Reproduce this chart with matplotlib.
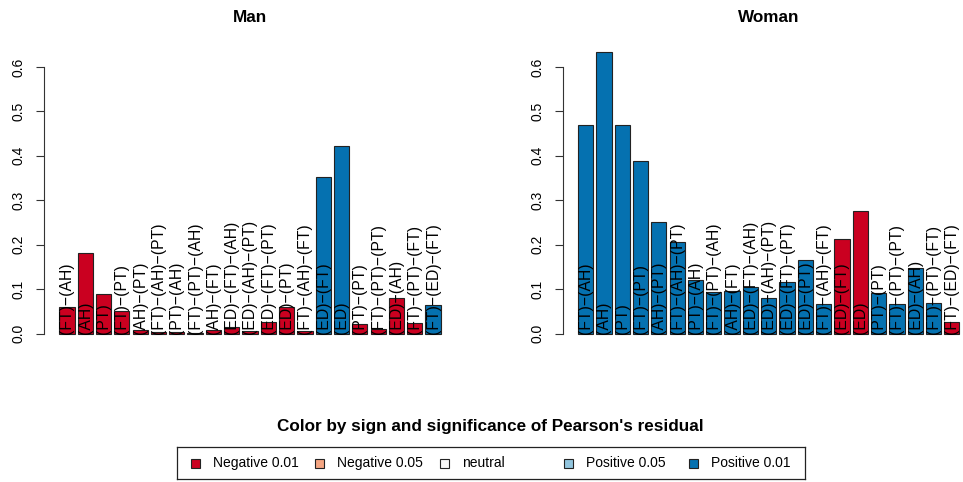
#!/usr/bin/python
# plot.py
# two barplots (Man / Woman) of sequence frequencies, coloured by
# sign and significance of the Pearson residual, shared legend below

import numpy as np
import matplotlib
matplotlib.use('Agg')
from matplotlib import pyplot as plt
from matplotlib.patches import Rectangle

plt.rcParams['font.family'] = ['Liberation Sans', 'DejaVu Sans']

M = '\u2212'
sequences = ['(FT)-(AH)', '(AH)', '(PT)', '(FT)-(PT)', '(AH)-(PT)',
             '(FT)-(AH)-(PT)', '(PT)-(AH)', '(FT)-(PT)-(AH)', '(AH)-(FT)',
             '(ED)-(FT)-(AH)', '(ED)-(AH)-(PT)', '(ED)-(FT)-(PT)', '(ED)-(PT)',
             '(FT)-(AH)-(FT)', '(ED)-(FT)', '(ED)', '(PT)-(PT)',
             '(FT)-(PT)-(PT)', '(ED)-(AH)', '(FT)-(PT)-(FT)', '(FT)-(ED)-(FT)']

man_freq = [0.060, 0.181, 0.0885, 0.051, 0.0075, 0.0045, 0.003, 0.0015,
            0.009, 0.016, 0.006, 0.027, 0.060, 0.006, 0.3526, 0.423, 0.022,
            0.0105, 0.080, 0.025, 0.065]
woman_freq = [0.4704, 0.6345, 0.469, 0.388, 0.2517, 0.2067, 0.1213, 0.0936,
              0.095, 0.1056, 0.0794, 0.116, 0.1648, 0.0674, 0.2135, 0.2757,
              0.0914, 0.0674, 0.1476, 0.0689, 0.027]

# 0 = negative 0.01, 1 = negative 0.05, 2 = neutral, 3 = positive 0.05, 4 = positive 0.01
man_class = [0] * 14 + [4, 4] + [0] * 4 + [4]
woman_class = [4] * 14 + [0, 0] + [4] * 4 + [0]

legend_labels = ['Negative 0.01', 'Negative 0.05', 'neutral',
                 'Positive 0.05', 'Positive 0.01']
palette = ['#CA0020', '#F4A582', '#F7F7F7', '#92C5DE', '#0571B0']

W, H = 963, 482
fig = plt.figure(figsize=(W / 100, H / 100), dpi=100)

ymax = max(max(man_freq), max(woman_freq))
ylo, yhi = -0.04 * ymax, 1.04 * ymax
yticks = [0.0, 0.1, 0.2, 0.3, 0.4, 0.5, 0.6]


def barpanel(left_px, title, freq, cls):
    ax = fig.add_axes([left_px / W, 0.2842, 412 / W, 0.6322])
    x = 0.7 + 1.2 * np.arange(len(freq))
    ax.bar(x, freq, width=1.0, color=[palette[c] for c in cls],
           edgecolor='#222222', linewidth=0.8, clip_on=True)
    for xi, lab in zip(x, sequences):
        ax.text(xi, 0.0, lab.replace('-', M), rotation=90, ha='center',
                va='bottom', fontsize=11.3, color='black', clip_on=True)
    ax.set_xlim(-0.8, 26.2)
    ax.set_ylim(ylo, yhi)
    ax.set_xticks([])
    ax.set_yticks(yticks)
    ax.set_yticklabels(['%.1f' % t for t in yticks], rotation=90,
                       va='center', fontsize=10)
    ax.tick_params(axis='y', length=6, width=0.8, pad=7, color='#333333')
    for s in ['top', 'right', 'bottom']:
        ax.spines[s].set_visible(False)
    ax.spines['left'].set_bounds(0, 0.6)
    ax.spines['left'].set_color('#333333')
    ax.spines['left'].set_linewidth(0.8)
    ax.patch.set_alpha(0)
    cx = (left_px + 206) / W
    fig.text(cx, 1 - 17 / H, title, ha='center', va='center',
             fontsize=12.3, fontweight='bold')
    return ax


barpanel(44, 'Man', man_freq, man_class)
barpanel(562.7, 'Woman', woman_freq, woman_class)

# legend
fig.text(490.7 / W, 1 - 426 / H,
         "Color by sign and significance of Pearson's residual",
         ha='center', va='center', fontsize=12.3, fontweight='bold')
lax = fig.add_axes([177 / W, 3 / H, 628 / W, 32 / H])
lax.set_xlim(177, 805)
lax.set_ylim(479, 447)
lax.set_xticks([])
lax.set_yticks([])
for s in lax.spines.values():
    s.set_linewidth(0.9)
    s.set_color('#222222')
for i, (lab, col) in enumerate(zip(legend_labels, palette)):
    cx = 195 + 124.5 * i
    lax.add_patch(Rectangle((cx - 4.5, 463 - 4.5), 9, 9, facecolor=col,
                            edgecolor='#222222', linewidth=0.8))
    lax.text(cx + 17.7, 463, lab, ha='left', va='center', fontsize=10)

fig.savefig('out.png', dpi=100)
